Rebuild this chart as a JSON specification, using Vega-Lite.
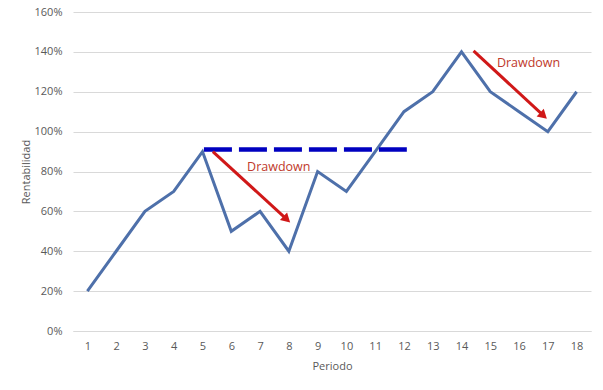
{
  "$schema": "https://vega.github.io/schema/vega-lite/v6.json",
  "width": 518,
  "height": 319,
  "autosize": "none",
  "padding": {"left": 73, "top": 12, "right": 12, "bottom": 59},
  "background": "white",
  "config": {
    "view": {"stroke": null},
    "font": "Open Sans",
    "axis": {"labelColor": "#595959", "titleColor": "#595959", "labelFontSize": 11, "titleFontSize": 11, "titleFontWeight": "normal", "labelFont": "Open Sans", "titleFont": "Open Sans", "labelOverlap": false, "labelFlush": false}
  },
  "datasets": {
    "serie": [
      {"periodo": 1, "rent": 0.2}, {"periodo": 2, "rent": 0.4}, {"periodo": 3, "rent": 0.6},
      {"periodo": 4, "rent": 0.7}, {"periodo": 5, "rent": 0.9}, {"periodo": 6, "rent": 0.5},
      {"periodo": 7, "rent": 0.6}, {"periodo": 8, "rent": 0.4}, {"periodo": 9, "rent": 0.8},
      {"periodo": 10, "rent": 0.7}, {"periodo": 11, "rent": 0.9}, {"periodo": 12, "rent": 1.1},
      {"periodo": 13, "rent": 1.2}, {"periodo": 14, "rent": 1.4}, {"periodo": 15, "rent": 1.2},
      {"periodo": 16, "rent": 1.1}, {"periodo": 17, "rent": 1.0}, {"periodo": 18, "rent": 1.2}
    ],
    "maximo": [{"x1": 5.05, "x2": 12.1, "y": 0.91}],
    "flechas": [
      {"x1": 5.36, "y1": 0.9, "x2": 7.93, "y2": 0.56},
      {"x1": 14.42, "y1": 1.405, "x2": 16.85, "y2": 1.08}
    ],
    "textos": [
      {"x": 7.65, "y": 0.825, "label": "Drawdown"},
      {"x": 16.33, "y": 1.345, "label": "Drawdown"}
    ]
  },
  "layer": [
    {
      "data": {"name": "serie"},
      "mark": {"type": "line", "color": "#4E70AA", "strokeWidth": 3},
      "encoding": {
        "x": {"field": "periodo", "type": "quantitative", "scale": {"domain": [0.5, 18.5], "nice": false, "zero": false},
          "axis": {"values": [1,2,3,4,5,6,7,8,9,10,11,12,13,14,15,16,17,18], "format": "d", "tickCount": 40, "labelOverlap": false, "grid": false, "ticks": false, "domainColor": "#D9D9D9", "labelPadding": 9, "title": "Periodo", "titlePadding": 9}},
        "y": {"field": "rent", "type": "quantitative", "scale": {"domain": [0, 1.6], "nice": false},
          "axis": {"format": "%", "values": [0,0.2,0.4,0.6,0.8,1.0,1.2,1.4,1.6], "tickCount": 20, "labelOverlap": false, "domain": false, "ticks": false, "gridColor": "#D9D9D9", "labelPadding": 11, "title": "Rentabilidad", "titlePadding": 3}}
      }
    },
    {
      "data": {"name": "maximo"},
      "mark": {"type": "rule", "color": "#0000C0", "strokeWidth": 4.5, "strokeDash": [28, 7]},
      "encoding": {
        "x": {"field": "x1", "type": "quantitative"},
        "x2": {"field": "x2"},
        "y": {"field": "y", "type": "quantitative"}
      }
    },
    {
      "data": {"name": "flechas"},
      "mark": {"type": "rule", "color": "#D01818", "strokeWidth": 3},
      "encoding": {
        "x": {"field": "x1", "type": "quantitative"},
        "x2": {"field": "x2"},
        "y": {"field": "y1", "type": "quantitative"},
        "y2": {"field": "y2"}
      }
    },
    {
      "data": {"name": "flechas"},
      "mark": {"type": "point", "shape": "triangle-up", "filled": true, "color": "#D01818", "opacity": 1, "size": 110, "angle": 133},
      "encoding": {
        "x": {"field": "x2", "type": "quantitative"},
        "y": {"field": "y2", "type": "quantitative"}
      }
    },
    {
      "data": {"name": "textos"},
      "mark": {"type": "text", "color": "#C0392B", "fontSize": 12.5, "font": "Open Sans"},
      "encoding": {
        "x": {"field": "x", "type": "quantitative"},
        "y": {"field": "y", "type": "quantitative"},
        "text": {"field": "label"}
      }
    }
  ]
}
